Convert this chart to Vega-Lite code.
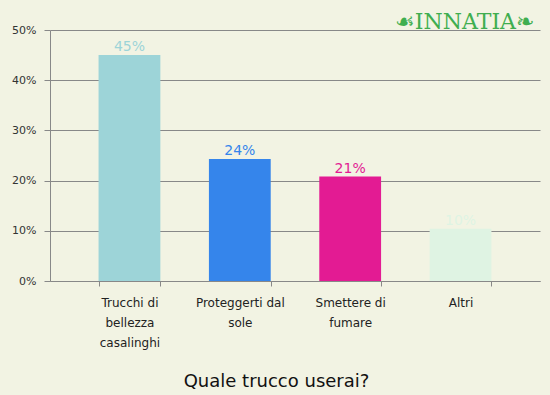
{
  "$schema": "https://vega.github.io/schema/vega-lite/v6.json",
  "width": 490,
  "height": 251,
  "autosize": {"type": "none"},
  "padding": {"left": 50, "top": 30, "right": 10, "bottom": 114},
  "background": "#f2f3e3",
  "title": {
    "text": "☙INNATIA❧",
    "anchor": "end",
    "orient": "top",
    "offset": -10,
    "font": "DejaVu Serif",
    "fontSize": 22,
    "fontWeight": "normal",
    "color": "#3fae4f",
    "dx": -6
  },
  "data": {
    "values": [
      {"cat": "Trucchi di bellezza casalinghi", "value": 45.0, "label": "45%", "color": "#9dd4d8"},
      {"cat": "Proteggerti dal sole", "value": 24.3, "label": "24%", "color": "#3585eb"},
      {"cat": "Smettere di fumare", "value": 20.8, "label": "21%", "color": "#e31b93"},
      {"cat": "Altri", "value": 10.4, "label": "10%", "color": "#dff3e3"}
    ]
  },
  "encoding": {
    "x": {
      "field": "cat",
      "type": "nominal",
      "sort": null,
      "scale": {"paddingInner": 0.44, "paddingOuter": 0.44},
      "axis": {
        "title": "Quale trucco userai?",
        "titleFont": "DejaVu Sans",
        "titleFontSize": 18,
        "titleFontWeight": "normal",
        "titleColor": "#111111",
        "titlePadding": 24,
        "titleAnchor": "middle",
        "titleX": 226,
        "labelAngle": 0,
        "labelFont": "DejaVu Sans",
        "labelFontSize": 12,
        "labelColor": "#222222",
        "labelLineHeight": 20,
        "labelPadding": 11,
        "labelExpr": "datum.value == 'Trucchi di bellezza casalinghi' ? ['Trucchi di', 'bellezza', 'casalinghi'] : datum.value == 'Proteggerti dal sole' ? ['Proteggerti dal', 'sole'] : datum.value == 'Smettere di fumare' ? ['Smettere di', 'fumare'] : datum.value",
        "tickBand": "extent",
        "tickSize": 5,
        "tickColor": "#888888",
        "domainColor": "#888888",
        "grid": false
      }
    },
    "y": {
      "field": "value",
      "type": "quantitative",
      "scale": {"domain": [0, 50], "nice": false},
      "axis": {
        "title": null,
        "values": [0, 10, 20, 30, 40, 50],
        "labelExpr": "datum.value + '%'",
        "labelFont": "DejaVu Sans",
        "labelFontSize": 11,
        "labelColor": "#333333",
        "labelPadding": 8,
        "tickSize": 6,
        "tickColor": "#888888",
        "domainColor": "#888888",
        "grid": true,
        "gridColor": "#888888",
        "gridOpacity": 1
      }
    }
  },
  "layer": [
    {
      "mark": {"type": "bar"},
      "encoding": {
        "color": {"field": "color", "type": "nominal", "scale": null}
      }
    },
    {
      "mark": {"type": "text", "baseline": "alphabetic", "dy": -4, "font": "DejaVu Sans", "fontSize": 14},
      "encoding": {
        "text": {"field": "label"},
        "color": {"field": "color", "type": "nominal", "scale": null}
      }
    }
  ],
  "config": {
    "view": {"stroke": null}
  }
}
